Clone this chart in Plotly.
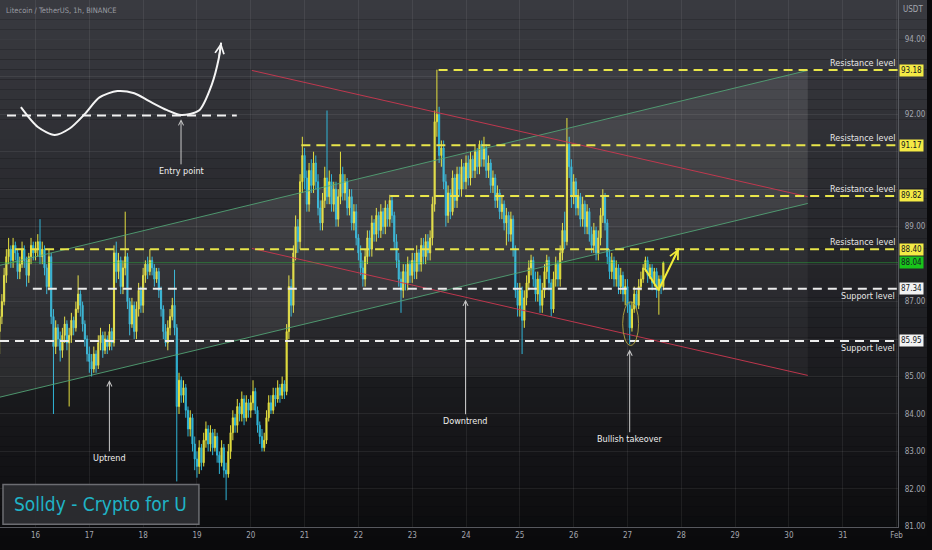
import numpy as np
import pandas as pd
import plotly.graph_objects as go

# LTC/USDT 1h candles, Binance, from Jan 15 08:00 to Jan 27 16:00
first_open = 86.2
closes = [
    # Jan 15 (08:00 ->)
    86.6, 87.0, 87.7, 88.2, 88.4, 88.1, 88.5, 88.3, 87.8, 88.0, 88.4, 88.1, 87.7, 88.2, 88.5, 88.3,
    # Jan 16
    88.4, 88.6, 88.2, 88.4, 87.9, 87.4, 88.2, 86.6, 85.8, 86.3, 86.0, 85.7, 86.1, 86.4, 85.9, 86.1, 86.5, 86.3, 86.8, 87.2, 86.9, 86.4, 86.0, 85.6,
    # Jan 17
    85.4, 85.2, 85.6, 85.3, 85.9, 86.1, 85.7, 86.0, 85.8, 86.2, 85.9, 88.3, 87.8, 88.1, 87.4, 87.9, 88.2, 87.0, 86.4, 86.9, 86.2, 86.8, 87.3, 86.9,
    # Jan 18
    87.7, 88.0, 87.8, 88.1, 87.9, 87.6, 87.8, 87.3, 86.8, 86.2, 85.9, 86.3, 86.6, 86.9, 86.3, 84.2, 84.9, 84.5, 84.7, 84.1, 83.6, 83.9, 83.2, 82.8,
    # Jan 19
    82.6, 83.1, 82.7, 83.3, 83.6, 83.2, 83.5, 83.1, 83.4, 82.9, 82.7, 83.1, 82.5, 82.4, 83.0, 83.5, 83.9, 83.7, 84.2, 84.0, 84.4, 83.9, 84.3, 84.1,
    # Jan 20
    84.3, 84.6, 84.1, 83.7, 83.4, 83.1, 83.3, 83.9, 84.3, 84.1, 84.5, 84.4, 84.7, 84.5, 84.8, 84.6, 86.2, 87.4, 86.9, 88.3, 89.0, 88.6, 90.2, 90.9,
    # Jan 21
    90.3, 89.6, 90.5, 90.1, 90.7, 90.2, 89.5, 89.1, 89.7, 90.3, 89.8, 90.2, 89.6, 90.0, 89.2, 89.8, 90.4, 89.9, 90.2, 89.5, 89.8, 89.1, 89.4, 88.7,
    # Jan 22
    88.3, 87.9, 87.6, 88.2, 88.7, 88.4, 89.1, 88.8, 89.3, 88.9, 89.4, 89.0, 89.5, 89.2, 89.7, 89.3, 88.6, 88.1, 87.6, 87.3, 87.8, 87.5, 88.0, 87.7,
    # Jan 23
    88.1, 87.8, 88.3, 88.0, 88.5, 88.2, 88.6, 88.3, 88.7, 89.6, 91.8, 92.0, 90.9, 91.1, 90.2, 89.3, 89.9, 89.4, 90.3, 89.7, 90.4, 90.0, 90.6, 90.2,
    # Jan 24
    90.7, 90.3, 90.8, 90.5, 91.0, 90.6, 91.2, 90.8, 91.1, 90.5, 90.7, 90.1, 90.3, 89.7, 89.9, 89.4, 89.6, 89.1, 89.3, 88.8, 89.2, 88.4, 87.3, 86.9,
    # Jan 25
    87.3, 86.5, 87.1, 87.5, 87.9, 88.1, 87.6, 87.2, 87.6, 86.9, 87.3, 87.8, 88.1, 87.5, 86.8, 87.6, 88.0, 87.6, 88.3, 88.9, 88.6, 91.2, 90.6, 89.8,
    # Jan 26
    90.2, 89.5, 89.8, 89.2, 89.6, 89.0, 89.4, 88.8, 88.5, 88.9, 88.3, 88.7, 89.3, 89.8, 89.1, 88.2, 87.8, 88.1, 87.6, 87.9, 87.4, 87.7, 87.2, 87.4,
    # Jan 27 (-> 16:00)
    86.9, 86.3, 86.8, 87.2, 86.9, 87.4, 87.6, 87.9, 88.1, 87.7, 87.9, 87.5, 87.8, 87.3, 87.6, 87.4, 88.04,
]
highs = [
    86.8, 87.2, 87.9, 88.4, 88.7, 88.5, 88.7, 88.6, 88.4, 88.2, 88.6, 88.5, 88.2, 88.3, 88.7, 88.6,
    88.6, 88.8, 89.2, 88.6, 88.5, 88.0, 88.4, 88.3, 86.8, 86.5, 86.4, 86.2, 86.3, 86.6, 86.5, 86.3, 86.7, 86.6, 87.0, 87.7, 87.3, 87.0, 86.5, 86.1,
    85.8, 85.6, 85.8, 85.7, 86.1, 86.3, 86.2, 86.2, 86.1, 86.4, 86.3, 88.5, 88.6, 88.3, 88.2, 88.1, 89.4, 88.3, 87.1, 87.1, 87.0, 87.0, 87.5, 87.4,
    87.9, 88.1, 88.2, 88.4, 88.2, 88.0, 87.9, 87.9, 87.4, 86.9, 86.4, 86.5, 86.8, 87.1, 87.85, 86.4, 85.1, 85.0, 84.9, 84.8, 84.2, 84.1, 84.0, 83.4,
    83.0, 83.3, 83.2, 83.5, 83.8, 83.7, 83.7, 83.6, 83.6, 83.5, 83.0, 83.3, 83.2, 82.7, 83.2, 83.7, 84.1, 84.0, 84.4, 84.3, 84.6, 84.5, 84.5, 84.4,
    84.5, 84.9, 84.7, 84.2, 83.8, 83.6, 83.5, 84.1, 84.5, 84.5, 84.7, 84.7, 84.9, 84.8, 85.0, 84.9, 86.4, 87.7, 87.6, 88.5, 89.3, 89.2, 90.4, 91.4,
    91.1, 90.5, 90.7, 90.8, 91.0, 90.9, 90.4, 89.7, 89.9, 90.6, 92.1, 90.5, 90.4, 90.2, 90.2, 90.0, 91.0, 90.6, 90.4, 90.3, 90.0, 90.0, 89.6, 89.6,
    88.8, 88.5, 88.1, 88.4, 88.9, 88.9, 89.3, 89.2, 89.5, 89.4, 89.6, 89.5, 89.7, 89.6, 89.85, 89.8, 89.4, 88.8, 88.3, 87.8, 88.0, 88.0, 88.2, 88.1,
    88.3, 88.3, 88.5, 88.4, 88.7, 88.7, 88.8, 88.8, 88.9, 89.8, 92.1, 93.19, 92.2, 91.3, 91.3, 90.4, 90.1, 90.0, 90.5, 90.4, 90.6, 90.6, 90.8, 90.7,
    90.9, 90.9, 91.0, 90.9, 91.2, 91.1, 91.3, 91.3, 91.4, 91.2, 90.9, 90.8, 90.5, 90.4, 90.1, 90.0, 89.8, 89.7, 89.5, 89.4, 89.4, 89.3, 88.5, 87.5,
    87.5, 87.4, 87.3, 87.7, 88.1, 88.25, 88.2, 87.8, 87.8, 87.7, 87.5, 88.0, 88.25, 88.2, 87.6, 87.8, 88.2, 88.1, 88.5, 89.1, 89.4, 91.9, 91.4, 90.8,
    90.4, 90.3, 90.0, 89.9, 89.8, 89.7, 89.6, 89.5, 89.0, 89.1, 89.0, 88.9, 89.5, 90.0, 89.9, 89.2, 88.4, 88.3, 88.2, 88.1, 88.0, 87.9, 87.8, 87.6,
    87.6, 87.0, 87.0, 87.4, 87.3, 87.6, 87.8, 88.0, 88.2, 88.2, 88.0, 88.0, 87.9, 87.9, 87.7, 87.7, 88.07,
]
lows = [
    85.6, 86.4, 86.9, 87.5, 88.0, 87.9, 87.9, 88.1, 87.6, 87.6, 87.9, 87.9, 87.4, 87.5, 88.0, 88.1,
    88.1, 88.2, 88.0, 88.0, 87.7, 87.2, 87.3, 86.4, 84.0, 85.6, 85.8, 85.4, 85.5, 85.9, 85.7, 84.2, 85.9, 86.1, 86.2, 86.7, 86.6, 86.2, 85.8, 85.4,
    85.1, 85.0, 85.1, 85.1, 85.2, 85.7, 85.5, 85.6, 85.6, 85.7, 85.7, 85.8, 87.5, 87.6, 87.2, 87.2, 87.7, 86.8, 86.1, 86.3, 86.0, 86.0, 86.6, 86.7,
    86.7, 87.5, 87.6, 87.7, 87.7, 87.4, 87.5, 87.1, 86.6, 86.0, 85.8, 85.7, 86.1, 86.5, 86.1, 82.2, 84.0, 84.3, 84.3, 83.9, 83.4, 83.4, 83.0, 82.5,
    82.3, 82.4, 82.5, 82.6, 83.1, 83.0, 83.0, 82.9, 83.0, 82.7, 82.4, 82.6, 82.3, 81.7, 82.3, 82.8, 83.3, 83.5, 83.5, 83.8, 83.8, 83.7, 83.8, 83.9,
    83.9, 84.1, 84.0, 83.5, 83.2, 83.0, 83.0, 83.2, 83.8, 84.0, 84.0, 84.2, 84.3, 84.3, 84.4, 84.4, 84.5, 86.0, 86.6, 86.7, 88.1, 88.3, 88.4, 89.9,
    90.0, 89.4, 89.4, 89.9, 89.9, 90.0, 89.3, 88.9, 88.9, 89.5, 89.6, 89.6, 89.4, 89.4, 89.0, 89.0, 89.6, 89.7, 89.7, 89.3, 89.3, 88.9, 88.9, 88.5,
    88.1, 87.7, 87.4, 87.4, 88.0, 88.2, 88.2, 88.6, 88.6, 88.7, 88.7, 88.8, 88.8, 89.0, 89.0, 89.1, 88.4, 87.9, 87.4, 86.7, 87.1, 87.3, 87.3, 87.5,
    87.5, 87.6, 87.6, 87.8, 87.8, 88.0, 88.0, 88.1, 88.1, 88.5, 89.4, 91.4, 90.7, 90.6, 90.0, 89.0, 89.1, 89.2, 89.3, 89.5, 89.5, 89.8, 89.8, 90.0,
    90.0, 90.1, 90.1, 90.3, 90.3, 90.4, 90.4, 90.6, 90.6, 90.3, 90.3, 89.9, 89.9, 89.5, 89.5, 89.2, 89.2, 88.9, 88.5, 88.6, 88.6, 88.2, 87.1, 86.6,
    86.6, 85.6, 86.3, 86.9, 87.3, 87.7, 87.4, 87.0, 87.0, 86.7, 86.7, 87.1, 87.6, 87.3, 86.6, 86.7, 87.4, 87.4, 87.4, 88.1, 88.4, 88.5, 90.3, 89.5,
    89.6, 89.3, 89.3, 89.0, 89.0, 88.8, 88.8, 88.6, 88.3, 88.3, 88.1, 88.1, 88.5, 89.1, 88.9, 88.0, 87.6, 87.6, 87.4, 87.4, 87.2, 87.2, 87.0, 86.9,
    86.7, 85.86, 86.2, 86.7, 86.8, 86.8, 87.3, 87.5, 87.8, 87.5, 87.6, 87.3, 87.4, 87.1, 86.65, 87.2, 87.3,
]
opens = [first_open] + closes[:-1]
times = pd.date_range("2023-01-15 08:00", periods=len(closes), freq="h")

# drawn levels (price, day of January where the line starts)
res_levels = [93.18, 91.17, 89.82, 88.40]
res_start = [23.49, 20.94, 22.59, 15.62]
sup_levels = [87.34, 85.95]
sup_start = [15.95, 15.34]
last_price = 88.04

# price scale: grid at every unit, labels hidden where a level tag sits on top
price_ticks = [81, 82, 83, 84, 85, 86, 87, 88, 89, 90, 91, 92, 93, 94]
price_text = ["81.00", "82.00", "83.00", "84.00", "85.00", "", "87.00", "", "89.00", "", "", "92.00", "", "94.00"]

# channels: (day, price) end points
green_upper = [(15.34, 87.97), (30.35, 93.17)]
green_lower = [(15.34, 84.45), (30.35, 89.62)]
red_upper = [(20.02, 93.17), (30.35, 89.80)]
red_lower = [(20.02, 88.42), (30.35, 85.03)]
box_days = [20.02, 30.35]
box_prices = [85.03, 93.20]

# callouts: text, day, arrow tip price, text price
callouts = [
    ("Uptrend", 17.373, 84.90, 82.83),
    ("Downtrend", 23.991, 87.05, 83.82),
    ("Bullish takeover", 27.041, 85.72, 83.34),
    ("Entry point", 18.704, 91.87, 90.49),
]

# "entry point" sketch
sketch_days = [15.728, 16.043, 16.357, 16.634, 16.911, 17.189, 17.521, 17.835, 18.113, 18.445, 18.704, 19.037, 19.277, 19.407, 19.449]
sketch_prices = [92.19, 91.66, 91.45, 91.62, 92.00, 92.45, 92.62, 92.56, 92.35, 92.11, 91.98, 92.10, 92.80, 93.50, 93.91]
sketch_level = 91.97
sketch_span = [15.47, 19.74]

# projected move
proj_days = [27.318, 27.577, 27.955]
proj_prices = [87.89, 87.31, 88.42]
ellipse_days = [26.911, 27.207]
ellipse_prices = [85.83, 86.99]

tick_days = list(range(16, 33))
tick_text = ["16", "17", "18", "19", "20", "21", "22", "23", "24", "25", "26", "27", "28", "29", "30", "31", "Feb"]

FONT = "Liberation Sans Narrow, DejaVu Sans Condensed, Liberation Sans, sans-serif"
YELLOW = "#e3de3f"
CYAN = "#30b4d6"
LVL_Y = "#e8e54a"


def jan(d):
    return pd.Timestamp("2023-01-01") + pd.Timedelta(days=d - 1)


x_end = jan(32.03)

fig = go.Figure()

# green channel fill
fig.add_trace(go.Scatter(
    x=[jan(green_upper[0][0]), jan(green_upper[1][0]), jan(green_lower[1][0]), jan(green_lower[0][0])],
    y=[green_upper[0][1], green_upper[1][1], green_lower[1][1], green_lower[0][1]],
    fill="toself", fillcolor="rgba(255,255,255,0.07)", line=dict(width=0),
    mode="lines", hoverinfo="skip"))

for seg, col in [(green_upper, "rgba(84,168,120,0.85)"), (green_lower, "rgba(84,168,120,0.85)"),
                 (red_upper, "rgba(205,55,80,0.9)"), (red_lower, "rgba(205,55,80,0.9)")]:
    fig.add_trace(go.Scatter(x=[jan(seg[0][0]), jan(seg[1][0])], y=[seg[0][1], seg[1][1]],
                             mode="lines", line=dict(color=col, width=1), hoverinfo="skip"))

# current price line
fig.add_trace(go.Scatter(x=[jan(15.34), x_end], y=[last_price, last_price], mode="lines",
                         line=dict(color="rgba(40,200,60,0.4)", width=1), hoverinfo="skip"))

# candles
fig.add_trace(go.Candlestick(
    x=times, open=opens, high=highs, low=lows, close=closes,
    increasing=dict(line=dict(color=YELLOW, width=1), fillcolor=YELLOW),
    decreasing=dict(line=dict(color=CYAN, width=1), fillcolor=CYAN),
    whiskerwidth=0, hoverinfo="skip"))

# level lines
for lvl, st in zip(res_levels, res_start):
    fig.add_trace(go.Scatter(x=[jan(st), x_end], y=[lvl, lvl], mode="lines",
                             line=dict(color=LVL_Y, width=2, dash="9px,6px"), hoverinfo="skip"))
for lvl, st in zip(sup_levels, sup_start):
    fig.add_trace(go.Scatter(x=[jan(st), x_end], y=[lvl, lvl], mode="lines",
                             line=dict(color="#ececec", width=2, dash="9px,6px"), hoverinfo="skip"))

# sketch
fig.add_trace(go.Scatter(x=[jan(sketch_span[0]), jan(sketch_span[1])], y=[sketch_level, sketch_level],
                         mode="lines", line=dict(color="#f0f0f0", width=2, dash="9px,6px"), hoverinfo="skip"))
fig.add_trace(go.Scatter(x=[jan(d) for d in sketch_days], y=sketch_prices, mode="lines",
                         line=dict(color="#f4f4f4", width=2, shape="spline", smoothing=0.8), hoverinfo="skip"))

# projection
fig.add_trace(go.Scatter(x=[jan(d) for d in proj_days], y=proj_prices, mode="lines",
                         line=dict(color="#f2ec3a", width=2), hoverinfo="skip"))

shapes = []
# background gradient
n_bands = 55
for i in range(n_bands):
    t = (i + 0.5) / n_bands
    w = (1 - t) ** 0.85
    r, g, b = 9 + 48 * w, 9 + 49 * w, 11 + 53 * w
    shapes.append(dict(type="rect", xref="paper", yref="paper", x0=0, x1=1,
                       y0=1 - i / n_bands, y1=1 - (i + 1) / n_bands,
                       fillcolor=f"rgb({r:.0f},{g:.0f},{b:.0f})", line=dict(width=0), layer="below"))
shapes.append(dict(type="rect", xref="x", yref="y", x0=jan(box_days[0]), x1=jan(box_days[1]),
                   y0=box_prices[0], y1=box_prices[1], fillcolor="rgba(255,255,255,0.045)",
                   line=dict(width=0), layer="below"))
shapes.append(dict(type="circle", xref="x", yref="y", x0=jan(ellipse_days[0]), x1=jan(ellipse_days[1]),
                   y0=ellipse_prices[0], y1=ellipse_prices[1], line=dict(color="#a89c3c", width=1)))
# watermark box
shapes.append(dict(type="rect", xref="paper", yref="paper", x0=3 / 932, x1=200 / 932,
                   y0=1 - 528 / 550, y1=1 - 488 / 550, fillcolor="rgba(44,45,50,0.95)",
                   line=dict(color="#6c6d72", width=1.5)))

ann = []
for txt, d, tip, ty in callouts:
    ann.append(dict(x=jan(d), y=tip, ax=jan(d), ay=ty, xref="x", yref="y", axref="x", ayref="y",
                    text=txt, showarrow=True, arrowhead=5, arrowsize=1, arrowwidth=1,
                    arrowcolor="#c9c9c9", font=dict(family=FONT, size=9, color="#eeeeee")))
# arrow heads of sketch and projection
ann.append(dict(x=jan(sketch_days[-1]), y=sketch_prices[-1], ax=jan(sketch_days[-2]), ay=sketch_prices[-2],
                xref="x", yref="y", axref="x", ayref="y", text="", showarrow=True,
                arrowhead=5, arrowsize=1.1, arrowwidth=1.6, arrowcolor="#f4f4f4"))
ann.append(dict(x=jan(proj_days[-1]), y=proj_prices[-1], ax=jan(proj_days[-1] - 0.12), ay=proj_prices[-1] - 0.34,
                xref="x", yref="y", axref="x", ayref="y", text="", showarrow=True,
                arrowhead=5, arrowsize=1.1, arrowwidth=1.6, arrowcolor="#f2ec3a"))

for lvl in res_levels:
    ann.append(dict(x=902 / 932, y=lvl, xref="paper", yref="y", xanchor="right", yanchor="bottom",
                    yshift=0, text="Resistance level", showarrow=False,
                    font=dict(family=FONT, size=9, color="#e6e6e6")))
    ann.append(dict(x=904 / 932, y=lvl, xref="paper", yref="y", xanchor="left", yanchor="middle",
                    text=f"{lvl:.2f}", showarrow=False, bgcolor="#f4ea45", borderpad=1,
                    font=dict(family=FONT, size=8, color="#131722")))
for lvl in sup_levels:
    ann.append(dict(x=902 / 932, y=lvl, xref="paper", yref="y", xanchor="right", yanchor="top",
                    yshift=0, text="Support level", showarrow=False,
                    font=dict(family=FONT, size=9, color="#e6e6e6")))
    ann.append(dict(x=904 / 932, y=lvl, xref="paper", yref="y", xanchor="left", yanchor="middle",
                    text=f"{lvl:.2f}", showarrow=False, bgcolor="#f2f2f2", borderpad=1,
                    font=dict(family=FONT, size=8, color="#131722")))
ann.append(dict(x=904 / 932, y=last_price, xref="paper", yref="y", xanchor="left", yanchor="middle",
                text=f"{last_price:.2f}", showarrow=False, bgcolor="#19c41a", borderpad=1,
                font=dict(family=FONT, size=8, color="#131722")))

ann.append(dict(x=4 / 932, y=1 - 11 / 550, xref="paper", yref="paper", xanchor="left", yanchor="middle",
                text="Litecoin / TetherUS, 1h, BINANCE", showarrow=False,
                font=dict(family=FONT, size=7.5, color="#9a9ca3")))
ann.append(dict(x=906 / 932, y=1 - 10 / 550, xref="paper", yref="paper", xanchor="left", yanchor="middle",
                text="USDT", showarrow=False, font=dict(family=FONT, size=8, color="#a3a6af")))
ann.append(dict(x=101 / 932, y=1 - 508 / 550, xref="paper", yref="paper", xanchor="center", yanchor="middle",
                text="Solldy - Crypto for U", showarrow=False,
                font=dict(family=FONT, size=19, color="#1fb3c6")))

fig.update_layout(
    width=932, height=550,
    margin=dict(l=0, r=0, t=0, b=0),
    paper_bgcolor="#0a0a0c", plot_bgcolor="rgba(0,0,0,0)",
    showlegend=False,
    shapes=shapes, annotations=ann,
    font=dict(family=FONT, color="#a3a6af"),
    xaxis=dict(
        domain=[0, 903 / 932], range=[jan(15.34), x_end], type="date",
        tickvals=[jan(d) for d in tick_days], ticktext=tick_text,
        tickfont=dict(family=FONT, size=8, color="#a3a6af"),
        showgrid=True, gridcolor="rgba(255,255,255,0.07)", gridwidth=1,
        showline=True, linecolor="#56585e", linewidth=1, zeroline=False,
        ticks="", rangeslider=dict(visible=False), fixedrange=True,
    ),
    yaxis=dict(
        domain=[19 / 550, 1], range=[80.98, 95.05], side="right",
        tickvals=price_ticks, ticktext=price_text,
        tickfont=dict(family=FONT, size=8, color="#a3a6af"),
        showgrid=True, gridcolor="rgba(255,255,255,0.07)", gridwidth=1,
        showline=True, linecolor="#56585e", linewidth=1, zeroline=False,
        ticks="", ticklabelstandoff=4, fixedrange=True,
    ),
)

fig.write_html("out.html", config={"displayModeBar": False},
               post_script="document.body.style.margin='0px';document.body.style.background='#0a0a0c';")
